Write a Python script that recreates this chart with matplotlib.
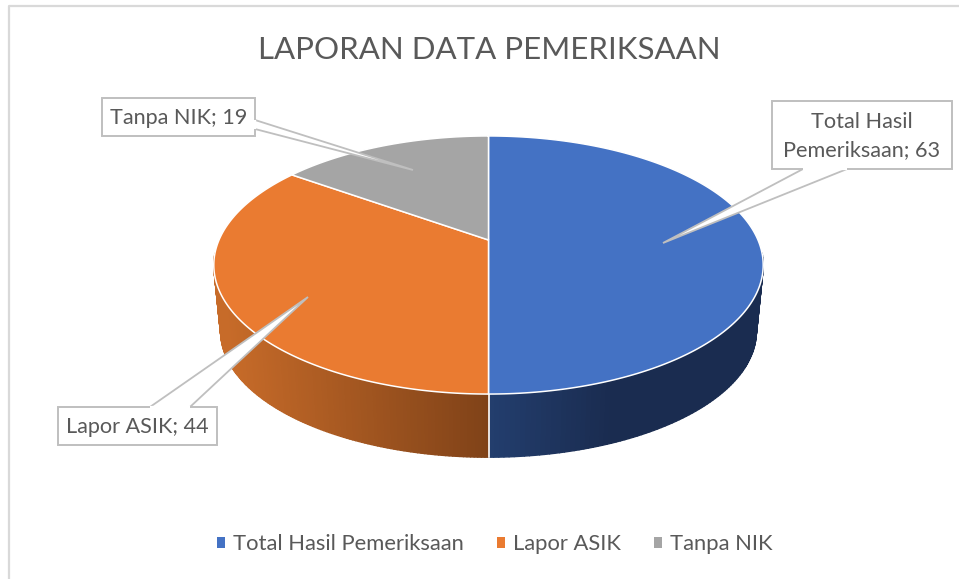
import numpy as np
import matplotlib
matplotlib.use('Agg')
from matplotlib import pyplot as plt
from matplotlib.collections import PolyCollection
from matplotlib.colors import to_rgb
from matplotlib.patches import Polygon, Rectangle, Patch

# data
categories = ['Total Hasil Pemeriksaan', 'Lapor ASIK', 'Tanpa NIK']
values = [63, 44, 19]
box_labels = ['Total Hasil\nPemeriksaan; 63', 'Lapor ASIK; 44', 'Tanpa NIK; 19']
title = 'LAPORAN DATA PEMERIKSAAN'

colors = ['#4472C4', '#EA7B31', '#A5A5A5']
# side colours: at the left end of the x range, and at the right end
side_colors = [('#233E6E', '#1A2C50'), ('#C76B29', '#7F4218'), ('#6B6B6B', '#6B6B6B')]
side_x = [(489, 610), (225, 489), (280, 489)]

plt.rcParams['font.family'] = ['Lato', 'DejaVu Sans']
text_color = '#595959'
line_color = '#BFBFBF'

fig = plt.figure(figsize=(9.59, 5.79), dpi=100)
ax = fig.add_axes([0, 0, 1, 1])
ax.set_xlim(0, 959)
ax.set_ylim(579, 0)
ax.axis('off')


# circle -> screen, with the back of the pie further away
def project(theta, drop=0, scale=1.0):
    x = np.sin(theta)
    y = np.cos(theta)
    d = 1 + 0.1938 * y
    return 488.5 + scale * 269.5 * x / d, 240 + drop - scale * 124.2 * y / d


angles = np.concatenate([[0], np.cumsum(values)]) / np.sum(values) * 2 * np.pi

# border of the chart area
ax.plot([8.5, 8.5, 959], [579, 5.5, 5.5], color='#D9D9D9', lw=1.6)

# sides first, only the front part of the rim can be seen
for i in range(3):
    t = np.linspace(angles[i], angles[i + 1], 200)
    t = t[np.cos(t) < -0.1]
    if len(t) < 2:
        continue
    x1, y1 = project(t)
    x2, y2 = project(t, drop=67, scale=0.975)
    quads = []
    quad_colors = []
    c0 = np.array(to_rgb(side_colors[i][0]))
    c1 = np.array(to_rgb(side_colors[i][1]))
    for j in range(len(t) - 1):
        quads.append([(x1[j], y1[j]), (x1[j + 1], y1[j + 1]), (x2[j + 1], y2[j + 1]), (x2[j], y2[j])])
        f = np.clip(((x1[j] + x1[j + 1]) / 2 - side_x[i][0]) / (side_x[i][1] - side_x[i][0]), 0, 1)
        quad_colors.append(c0 + (c1 - c0) * f)
    ax.add_collection(PolyCollection(quads, facecolors=quad_colors, edgecolors=quad_colors, linewidths=1.0, zorder=2))

# white line between the two visible side pieces
x1, y1 = project(angles[1])
x2, y2 = project(angles[1], drop=67, scale=0.975)
ax.plot([x1, x2], [y1, y2], color='white', lw=1.2, zorder=3)

# top face
for i in range(3):
    t = np.linspace(angles[i], angles[i + 1], 200)
    x, y = project(t)
    x0, y0 = project(np.array([0.0]), scale=0)
    pts = np.column_stack([np.r_[x0, x], np.r_[y0, y]])
    ax.add_patch(Polygon(pts, closed=True, facecolor=colors[i], edgecolor='white', lw=1.1, zorder=4))

# callouts
boxes = [(772, 101, 180, 68), (58, 407, 159, 38), (102, 98, 153, 38)]
tails = [[(803, 169), (663, 243), (847, 169)],
         [(150, 407), (308, 297), (190, 407)],
         [(255, 120), (413, 170), (255, 129)]]
for i in range(3):
    bx, by, bw, bh = boxes[i]
    ax.add_patch(Polygon(tails[i], closed=False, facecolor='white', edgecolor=line_color, lw=1.3, zorder=5))
    ax.add_patch(Rectangle((bx, by), bw, bh, facecolor='white', edgecolor=line_color, lw=1.4, zorder=6))
    # cover the box edge where the tail leaves it
    a, b = tails[i][0], tails[i][2]
    ax.plot([a[0], b[0]], [a[1], b[1]], color='white', lw=1.6, zorder=7, solid_capstyle='butt')
    ax.text(bx + bw / 2, by + bh / 2 + 1, box_labels[i], ha='center', va='center', fontsize=15.6,
            color=text_color, linespacing=1.5, zorder=8)

ax.text(489, 50, title, ha='center', va='center', fontsize=22.5, color=text_color)

handles = [Patch(facecolor=colors[i], edgecolor='none', label=categories[i]) for i in range(3)]
ax.legend(handles=handles, loc='center', bbox_to_anchor=(495 / 959, 1 - 544.5 / 579), ncol=3, frameon=False,
          fontsize=15.8, labelcolor=text_color, handlelength=0.37, handleheight=0.37, handletextpad=0.37,
          columnspacing=1.5, borderpad=0, borderaxespad=0)

plt.savefig('out.png', dpi=100)
